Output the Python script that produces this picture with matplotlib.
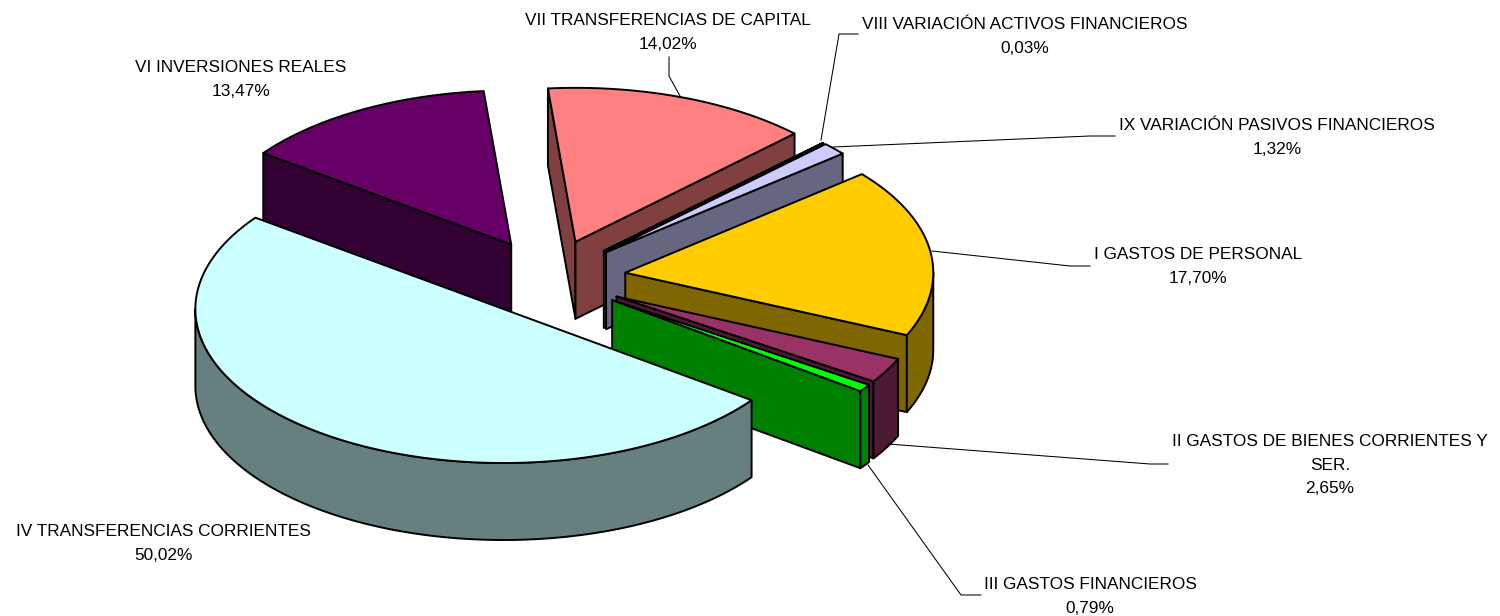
import numpy as np
import matplotlib
matplotlib.use("Agg")
import matplotlib.pyplot as plt
from matplotlib.patches import Polygon

plt.rcParams['font.family'] = ['Liberation Sans', 'DejaVu Sans']

# chart data, clockwise from the first slice
labels = ["I GASTOS DE PERSONAL", "II GASTOS DE BIENES CORRIENTES Y\nSER.",
          "III GASTOS FINANCIEROS", "IV TRANSFERENCIAS CORRIENTES",
          "VI INVERSIONES REALES", "VII TRANSFERENCIAS DE CAPITAL",
          "VIII VARIACIÓN ACTIVOS FINANCIEROS", "IX VARIACIÓN PASIVOS FINANCIEROS"]
values = [17.70, 2.65, 0.79, 50.02, 13.47, 14.02, 0.03, 1.32]
top_colors = ["#FFCC00", "#993366", "#00FF00", "#CCFFFF", "#660066", "#FF8080", "#CCCCFF", "#CCCCFF"]
wall_colors = ["#806600", "#4D1933", "#008000", "#668080", "#330033", "#804040", "#666680", "#666680"]

# layout, in pixels of the 1500x616 picture
CX, CY = 549, 278
RX, RY = 308, 154
DEPTH = 77
EXPLODE = 0.25
START = 39.8
label_xy = [(1198, 266.5), (1330, 465), (1090, 596.5), (163, 543.5),
            (241, 79.5), (668, 32.5), (1025, 36.5), (1277, 137.5)]
leaders = [[(932, 251), (1070, 266), (1090, 266)],
           [(888, 444), (1150, 464), (1168, 464)],
           [(868, 465), (961, 595), (981, 595)],
           None,
           None,
           [(680, 96), (669, 76), (669, 57)],
           [(821, 140), (839, 34), (858, 34)],
           [(833, 147), (1090, 136), (1115, 136)]]
draw_order = [4, 5, 6, 7, 0, 1, 2, 3]


def rim(apex, a, b, drop=0):
    t = np.radians(np.linspace(a, b, max(2, int(abs(b - a)) * 2 + 2)))
    return np.column_stack([apex[0] + RX * np.cos(t), apex[1] - RY * np.sin(t) + drop])


def face(ax, pts, color):
    ax.add_patch(Polygon(pts, closed=True, facecolor=color, edgecolor="black",
                         linewidth=1.4, joinstyle="round"))


def cut_face(ax, apex, ang, color):
    outer = rim(apex, ang, ang)[0]
    face(ax, [apex, outer, (outer[0], outer[1] + DEPTH), (apex[0], apex[1] + DEPTH)], color)


def draw_slice(ax, a, b, top, wall):
    # a > b, running clockwise
    mid = np.radians((a + b) / 2)
    apex = (CX + EXPLODE * RX * np.cos(mid), CY - EXPLODE * RY * np.sin(mid))
    if np.sin(np.radians(a + 90)) < 0:
        cut_face(ax, apex, a, wall)
    if np.sin(np.radians(b - 90)) < 0:
        cut_face(ax, apex, b, wall)
    # outer wall only where the rim faces the viewer
    for lo, hi in [(-180, 0), (-540, -360)]:
        s, e = min(a, hi), max(b, lo)
        if s > e:
            face(ax, np.vstack([rim(apex, s, e), rim(apex, e, s, DEPTH)]), wall)
    face(ax, np.vstack([[apex], rim(apex, a, b)]), top)


fig = plt.figure(figsize=(15, 6.16), dpi=100, facecolor="white")
ax = fig.add_axes([0, 0, 1, 1])
ax.set_xlim(0, 1500)
ax.set_ylim(616, 0)
ax.axis("off")

ends = START - np.cumsum(values) * 3.6
starts = np.concatenate([[START], ends[:-1]])
for i in draw_order:
    draw_slice(ax, starts[i], ends[i], top_colors[i], wall_colors[i])

for name, val, (x, y), line in zip(labels, values, label_xy, leaders):
    text = name + "\n" + f"{val:.2f}".replace(".", ",") + "%"
    ax.text(x, y, text, ha="center", va="center", fontsize=12.45, color="black", linespacing=1.72)
    if line:
        xs, ys = zip(*line)
        ax.plot(xs, ys, color="black", lw=0.75)

fig.savefig("out.png", dpi=100)
